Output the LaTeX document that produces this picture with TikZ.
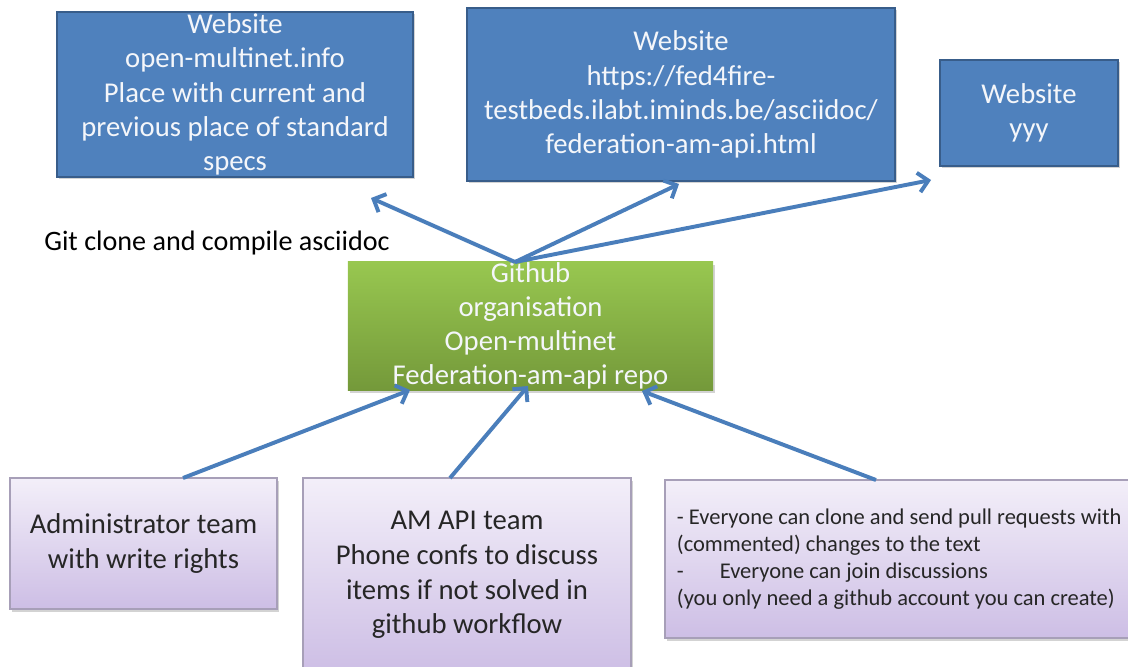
\documentclass[tikz,border=0pt]{standalone}
\usepackage{fontspec}
\setmainfont{Carlito}
\usetikzlibrary{arrows.meta,shadows}
\definecolor{boxblue}{HTML}{4F81BD}
\definecolor{boxblueborder}{HTML}{385D8A}
\definecolor{greentop}{HTML}{98C750}
\definecolor{greenbot}{HTML}{74993A}
\definecolor{purptop}{HTML}{F3EFF9}
\definecolor{purpbot}{HTML}{CDBEE5}
\definecolor{purpborder}{HTML}{A79FB8}
\definecolor{arrowblue}{HTML}{4A7EBB}
\definecolor{lighttext}{HTML}{F4F6FA}
\tikzset{
  bluebox/.style={draw=boxblueborder, line width=1pt, fill=boxblue, text=lighttext,
    align=center, inner xsep=2pt, inner ysep=0pt,
    font=\fontsize{20.4}{24.3}\selectfont,
    drop shadow={shadow xshift=1.5pt, shadow yshift=-1.5pt, opacity=0.35}},
  greenbox/.style={draw=none, top color=greentop, bottom color=greenbot, text=lighttext,
    align=center, inner sep=0pt, font=\fontsize{20.4}{24.3}\selectfont,
    drop shadow={shadow xshift=1.5pt, shadow yshift=-2pt, opacity=0.35}},
  purpbox/.style={draw=purpborder, line width=0.8pt, top color=purptop, bottom color=purpbot,
    text=black!85, align=center, inner sep=0pt, font=\fontsize{20.4}{24.6}\selectfont,
    drop shadow={shadow xshift=1.5pt, shadow yshift=-2pt, opacity=0.35}},
  flowarrow/.style={draw=arrowblue, line width=2.8pt,
    -{Straight Barb[length=7pt, width=14pt]}},
}
\begin{document}
\begin{tikzpicture}[x=0.025cm, y=-0.025cm]
\useasboundingbox (0,0) rectangle (1128,666);

% top websites
\node[bluebox, minimum width=8.9cm, minimum height=4.125cm] (web1) at (235,94.5)
  {Website\\open-multinet.info\\Place with current and\\previous place of standard\\specs};
\node[bluebox, minimum width=10.7cm, minimum height=4.325cm] (web2) at (681,94.5)
  {Website\\https://fed4fire-\\testbeds.ilabt.iminds.be/asciidoc/\\federation-am-api.html};
\node[bluebox, minimum width=4.45cm, minimum height=2.65cm] (web3) at (1029,113)
  {Website\\yyy};

% label
\node[font=\fontsize{20}{24}\selectfont, text=black, inner sep=0pt] (gitlabel) at (217,243)
  {Git clone and compile asciidoc};

% github
\node[greenbox, minimum width=9.125cm, minimum height=3.2cm] (github) at (530.5,326)
  {Github\\organisation\\Open-multinet\\Federation-am-api repo};

% bottom teams
\node[purpbox, minimum width=6.675cm, minimum height=3.275cm] (admin) at (143.5,543.5)
  {Administrator team\\with write rights};
\node[purpbox, minimum width=8.2cm, minimum height=4.85cm] (amapi) at (467,575)
  {AM API team\\Phone confs to discuss\\items if not solved in\\github workflow};
\node[purpbox, minimum height=3.95cm, align=flush left,
  inner xsep=0.3cm, text width=11.8cm,
  font=\fontsize{16}{19.3}\selectfont] (everyone) at (913,559)
  {- Everyone can clone and send pull requests with\\(commented) changes to the text\\-\hspace{1.6em}Everyone can join discussions\\(you only need a github account you can create)};

% connector end points
\coordinate (gtop) at (515,262);
\coordinate (t1) at (371,198);
\coordinate (t2) at (679,184);
\coordinate (t3) at (931,180);
\coordinate (b1) at (410,390);
\coordinate (b2) at (528,386);
\coordinate (b3) at (642,391);
\coordinate (s1) at (183,478);
\coordinate (s2) at (450,478);
\coordinate (s3) at (876,480);

\draw[flowarrow] (gtop) -- (t1);
\draw[flowarrow] (gtop) -- (t2);
\draw[flowarrow] (gtop) -- (t3);
\draw[flowarrow] (s1) -- (b1);
\draw[flowarrow] (s2) -- (b2);
\draw[flowarrow] (s3) -- (b3);
\end{tikzpicture}
\end{document}
